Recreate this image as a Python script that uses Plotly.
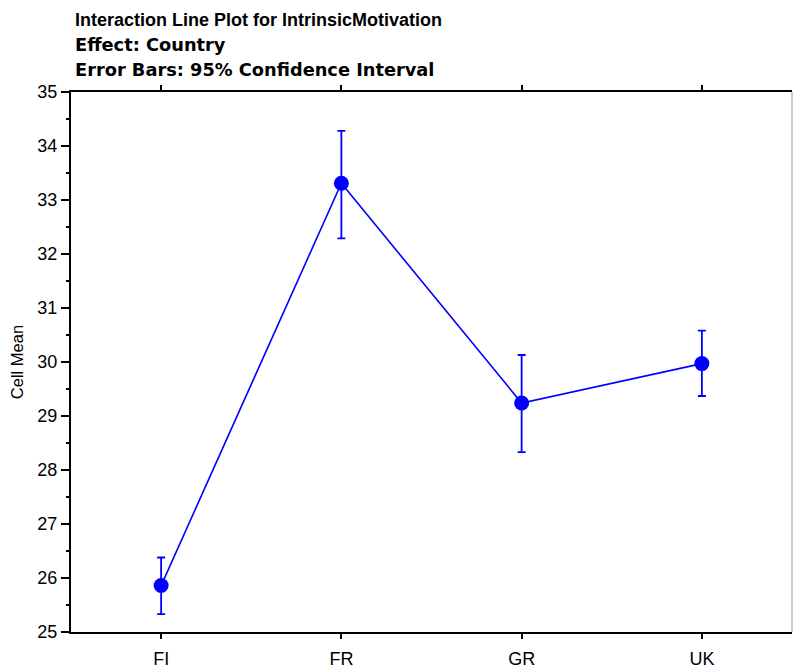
import plotly.graph_objects as go

countries = ["FI", "FR", "GR", "UK"]
means = [25.86, 33.31, 29.24, 29.97]
ci_upper = [26.38, 34.28, 30.13, 30.58]
ci_lower = [25.33, 32.29, 28.33, 29.37]
title_lines = [
    "Interaction Line Plot for IntrinsicMotivation",
    "Effect: Country",
    "Error Bars: 95% Confidence Interval",
]

err_plus = [u - m for u, m in zip(ci_upper, means)]
err_minus = [m - l for m, l in zip(means, ci_lower)]

fig = go.Figure()
fig.add_trace(go.Scatter(
    x=countries, y=means, mode="lines+markers",
    line=dict(color="#0000FF", width=1.6),
    marker=dict(color="#0000FF", size=15),
    error_y=dict(type="data", symmetric=False, array=err_plus, arrayminus=err_minus,
                 color="#0000FF", thickness=1.8, width=4),
    showlegend=False,
))

font = "Liberation Sans, Arial, sans-serif"
wide_font = "DejaVu Sans, Liberation Sans, Arial, sans-serif"
fig.update_layout(
    width=793, height=669,
    margin=dict(l=71, r=1, t=92, b=37),
    plot_bgcolor="white", paper_bgcolor="white",
    font=dict(family=font, color="black", size=18),
)
centers = [19.5, 44.5, 69.5]
fams = [font, wide_font, wide_font]
sizes = [18, 17.8, 17.8]
for txt, yc, fam, sz in zip(title_lines, centers, fams, sizes):
    fig.add_annotation(
        text="<b>" + txt + "</b>", xref="paper", yref="paper", x=0, y=1,
        xanchor="left", yanchor="middle", xshift=2, yshift=92 - yc,
        showarrow=False, font=dict(family=fam, size=sz, color="black"),
    )
fig.update_xaxes(
    type="category", range=[-0.5, 3.5],
    showline=True, linecolor="black", linewidth=2, mirror="ticks",
    ticks="outside", ticklen=5, tickwidth=1.5, tickcolor="black",
    showgrid=False, zeroline=False,
    tickfont=dict(size=18), ticklabelstandoff=4,
)
fig.update_yaxes(
    range=[25, 35], dtick=1,
    showline=True, linecolor="black", linewidth=2,
    ticks="outside", ticklen=8, tickwidth=2, tickcolor="black",
    minor=dict(dtick=0.5, ticks="outside", ticklen=3, tickwidth=1.5, tickcolor="black"),
    showgrid=False, zeroline=False,
    title=dict(text="Cell Mean", font=dict(size=16.5), standoff=10),
    tickfont=dict(size=18),
)
fig.add_shape(type="line", xref="paper", yref="paper", x0=1, x1=1, y0=0, y1=1,
              line=dict(color="#999999", width=1))
fig.write_html("out.html")
